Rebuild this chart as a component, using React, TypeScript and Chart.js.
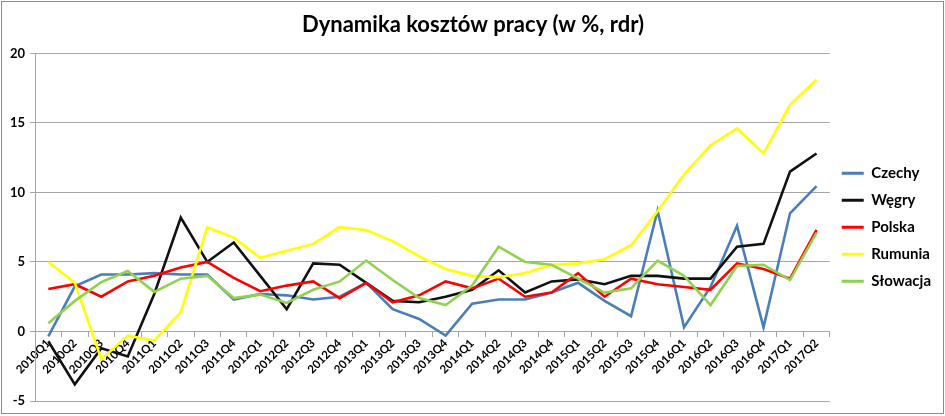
import { Chart, registerables } from 'chart.js';
import { useEffect, useRef } from 'react';

Chart.register(...registerables);

const quarters = [
    '2010Q1', '2010Q2', '2010Q3', '2010Q4',
    '2011Q1', '2011Q2', '2011Q3', '2011Q4',
    '2012Q1', '2012Q2', '2012Q3', '2012Q4',
    '2013Q1', '2013Q2', '2013Q3', '2013Q4',
    '2014Q1', '2014Q2', '2014Q3', '2014Q4',
    '2015Q1', '2015Q2', '2015Q3', '2015Q4',
    '2016Q1', '2016Q2', '2016Q3', '2016Q4',
    '2017Q1', '2017Q2',
];

const czechy = [-0.35, 3.25, 4.1, 4.1, 4.2, 4.1, 4.1, 2.3, 2.7, 2.6, 2.3, 2.5, 3.5, 1.6, 0.9, -0.3, 2.0, 2.3, 2.3, 2.8, 3.5, 2.2, 1.1, 8.7, 0.3, 3.2, 7.6, 0.3, 8.5, 10.45];
const wegry = [-0.7, -3.8, -1.2, -1.8, 2.7, 8.2, 5.0, 6.4, 4.0, 1.6, 4.9, 4.8, 3.5, 2.2, 2.1, 2.5, 3.0, 4.4, 2.8, 3.6, 3.75, 3.4, 4.0, 4.0, 3.8, 3.8, 6.1, 6.3, 11.5, 12.8];
const polska = [3.05, 3.4, 2.5, 3.6, 4.0, 4.6, 5.0, 3.85, 2.9, 3.3, 3.6, 2.4, 3.5, 2.1, 2.6, 3.6, 3.1, 3.8, 2.5, 2.8, 4.2, 2.5, 3.8, 3.4, 3.2, 3.0, 4.9, 4.5, 3.8, 7.3];
const rumunia = [5.0, 3.5, -2.0, -0.3, -0.65, 1.4, 7.5, 6.75, 5.3, 5.8, 6.3, 7.5, 7.3, 6.5, 5.4, 4.5, 4.0, 3.9, 4.2, 4.8, 4.9, 5.2, 6.2, 8.65, 11.3, 13.4, 14.6, 12.8, 16.3, 18.1];
const slowacja = [0.6, 2.2, 3.55, 4.35, 2.85, 3.8, 4.0, 2.4, 2.65, 2.05, 3.0, 3.6, 5.1, 3.7, 2.4, 1.9, 3.3, 6.1, 5.0, 4.8, 3.8, 2.8, 3.1, 5.1, 4.0, 1.9, 4.7, 4.8, 3.7, 7.1];

const seriesNames = ['Czechy', 'Węgry', 'Polska', 'Rumunia', 'Słowacja'];
const seriesColors = ['#4A7EBB', '#111111', '#FF0000', '#FFFF00', '#92D050'];

const FONT = 'Lato, "Noto Sans", sans-serif';
const GRID = '#a6a6a6';

// ramka wokół całego wykresu
const framePlugin = {
    id: 'frame',
    afterDraw(chart) {
        const ctx = chart.ctx;
        ctx.save();
        ctx.strokeStyle = '#8c8c8c';
        ctx.lineWidth = 1;
        ctx.strokeRect(1.5, 1.5, chart.width - 3, chart.height - 4);
        ctx.restore();
    },
};

export default function App() {
    const chartRef = useRef(null);

    useEffect(() => {
        document.body.style.margin = '0';
        const allSeries = [czechy, wegry, polska, rumunia, slowacja];

        const config = {
            type: 'line',
            data: {
                labels: quarters,
                datasets: allSeries.map((values, i) => ({
                    label: seriesNames[i],
                    data: values,
                    borderColor: seriesColors[i],
                    backgroundColor: seriesColors[i],
                    borderWidth: 2.6,
                    pointRadius: 0,
                    tension: 0,
                    order: allSeries.length - i,
                })),
            },
            options: {
                animation: false,
                responsive: true,
                maintainAspectRatio: false,
                layout: {
                    padding: { left: 5, right: 4, top: 0, bottom: 15 },
                },
                plugins: {
                    title: {
                        display: true,
                        text: 'Dynamika kosztów pracy (w %, rdr)',
                        color: '#000',
                        font: { family: FONT, size: 22, weight: 'bold' },
                        padding: { top: 12, bottom: 15 },
                    },
                    legend: {
                        position: 'right',
                        fullSize: false,
                        labels: {
                            boxWidth: 22,
                            boxHeight: 3,
                            padding: 12,
                            color: '#000',
                            font: { family: FONT, size: 15, weight: 'bold' },
                            generateLabels: (chart) => chart.data.datasets.map((ds, i) => ({
                                text: ds.label,
                                fillStyle: ds.borderColor,
                                strokeStyle: ds.borderColor,
                                lineWidth: 0,
                                hidden: false,
                                datasetIndex: i,
                            })),
                        },
                    },
                    tooltip: { enabled: false },
                },
                scales: {
                    x: {
                        position: { y: 0 },
                        offset: true,
                        grid: {
                            offset: true,
                            drawOnChartArea: false,
                            drawTicks: true,
                            tickLength: 5,
                            color: GRID,
                        },
                        border: { color: GRID, width: 1 },
                        ticks: {
                            autoSkip: false,
                            maxRotation: 45,
                            minRotation: 45,
                            padding: 0,
                            color: '#000',
                            font: { family: FONT, size: 11.5, weight: 'bold' },
                        },
                    },
                    y: {
                        min: -5,
                        max: 20,
                        ticks: {
                            stepSize: 5,
                            padding: 5,
                            color: '#000',
                            font: { family: FONT, size: 13, weight: 'bold' },
                        },
                        grid: {
                            color: GRID,
                            lineWidth: 1,
                            tickLength: 5,
                        },
                        border: { color: GRID, width: 1 },
                    },
                },
            },
            plugins: [framePlugin],
        };

        const myChart = new Chart(chartRef.current, config);

        return () => {
            myChart.destroy();
        };
    }, []);

    return (
        <div style={{ position: 'relative', width: 945, height: 416, background: '#fff' }}>
            <canvas ref={chartRef}></canvas>
        </div>
    );
}
